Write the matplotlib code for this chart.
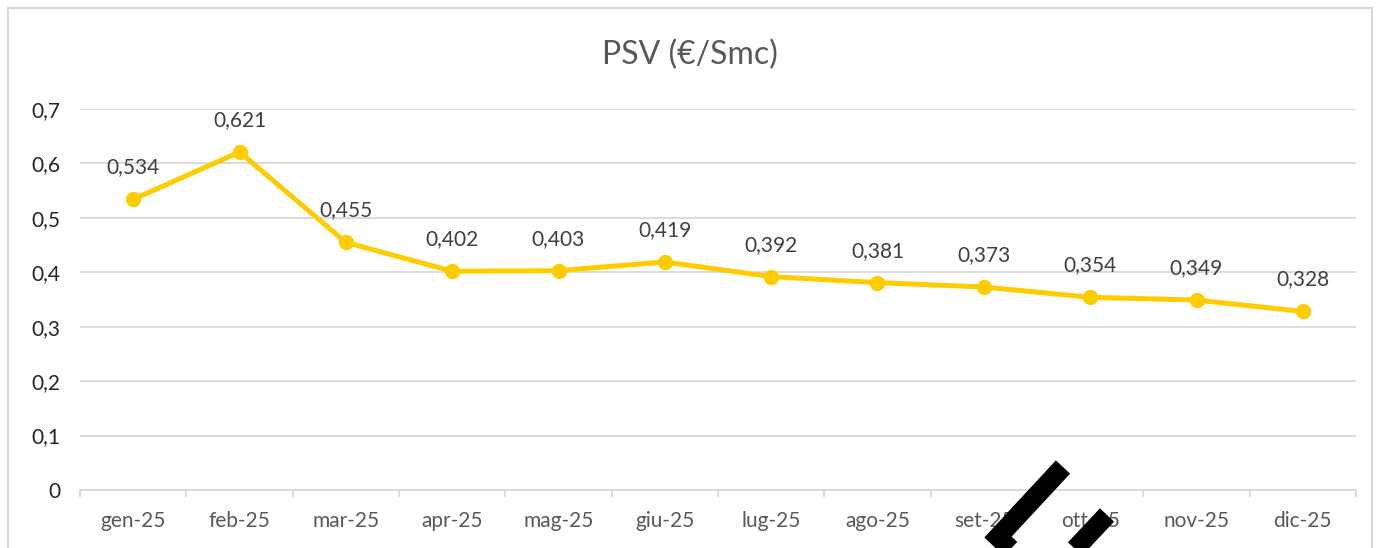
import numpy as np
import matplotlib.pyplot as plt
from matplotlib.lines import Line2D
from matplotlib.patches import Rectangle

months = ['gen-25', 'feb-25', 'mar-25', 'apr-25', 'mag-25', 'giu-25',
          'lug-25', 'ago-25', 'set-25', 'ott-25', 'nov-25', 'dic-25']
psv = [0.534, 0.621, 0.455, 0.402, 0.403, 0.419,
       0.392, 0.381, 0.373, 0.354, 0.349, 0.328]
yticks = [0, 0.1, 0.2, 0.3, 0.4, 0.5, 0.6, 0.7]

plt.rcParams['font.family'] = ['Lato', 'DejaVu Sans']
W, H = 1380, 548
fig = plt.figure(figsize=(W / 100, H / 100), dpi=100)
ax = fig.add_axes([80 / W, 1 - 490 / H, (1356 - 80) / W, (490 - 109) / H])

x = np.arange(len(months))
ax.plot(x, psv, color='#FFCC00', lw=3.6, marker='o', markersize=10, zorder=3)
for xi, v in zip(x, psv):
    ax.annotate(f'{v:.3f}'.replace('.', ','), (xi, v), xytext=(0, 23),
                textcoords='offset points', ha='center', va='center',
                fontsize=15, color='#404040')

ax.set_xlim(-0.5, len(months) - 0.5)
ax.set_ylim(0, 0.7)
ax.set_yticks(yticks)
ax.set_yticklabels(['0' if t == 0 else f'{t:.1f}'.replace('.', ',') for t in yticks],
                   fontsize=15, color='#262626')
ax.set_xticks(x)
ax.set_xticklabels(months, fontsize=15, color='#595959')
ax.set_xticks(np.arange(len(months) + 1) - 0.5, minor=True)
ax.tick_params(axis='x', which='major', length=0, pad=15)
ax.tick_params(axis='x', which='minor', length=5, color='#D9D9D9', width=1.3)
ax.tick_params(axis='y', length=0, pad=14)
ax.grid(axis='y', color='#D9D9D9', lw=1.3)
ax.set_axisbelow(True)
for s in ['top', 'right', 'left']:
    ax.spines[s].set_visible(False)
ax.spines['bottom'].set_color('#D9D9D9')
ax.spines['bottom'].set_linewidth(1.3)

fig.text(0.5, 1 - 55 / H, 'PSV (€/Smc)', ha='center', va='center',
         fontsize=23, color='#595959')

# chart border
fig.add_artist(Rectangle((8 / W, -0.01), (1372 - 8) / W, 1 - 8 / H + 0.01,
                         transform=fig.transFigure, fill=False,
                         edgecolor='#D9D9D9', lw=1.5))

# black overlay strokes
def px(xs, ys):
    return [v / W for v in xs], [1 - v / H for v in ys]

for xs, ys in [([1063, 998, 1022], [467, 537, 560]),
               ([1107, 1060], [515, 565])]:
    fx, fy = px(xs, ys)
    fig.add_artist(Line2D(fx, fy, transform=fig.transFigure, color='black',
                          lw=14, solid_capstyle='butt', solid_joinstyle='miter'))

fig.savefig('out.png', dpi=100)
